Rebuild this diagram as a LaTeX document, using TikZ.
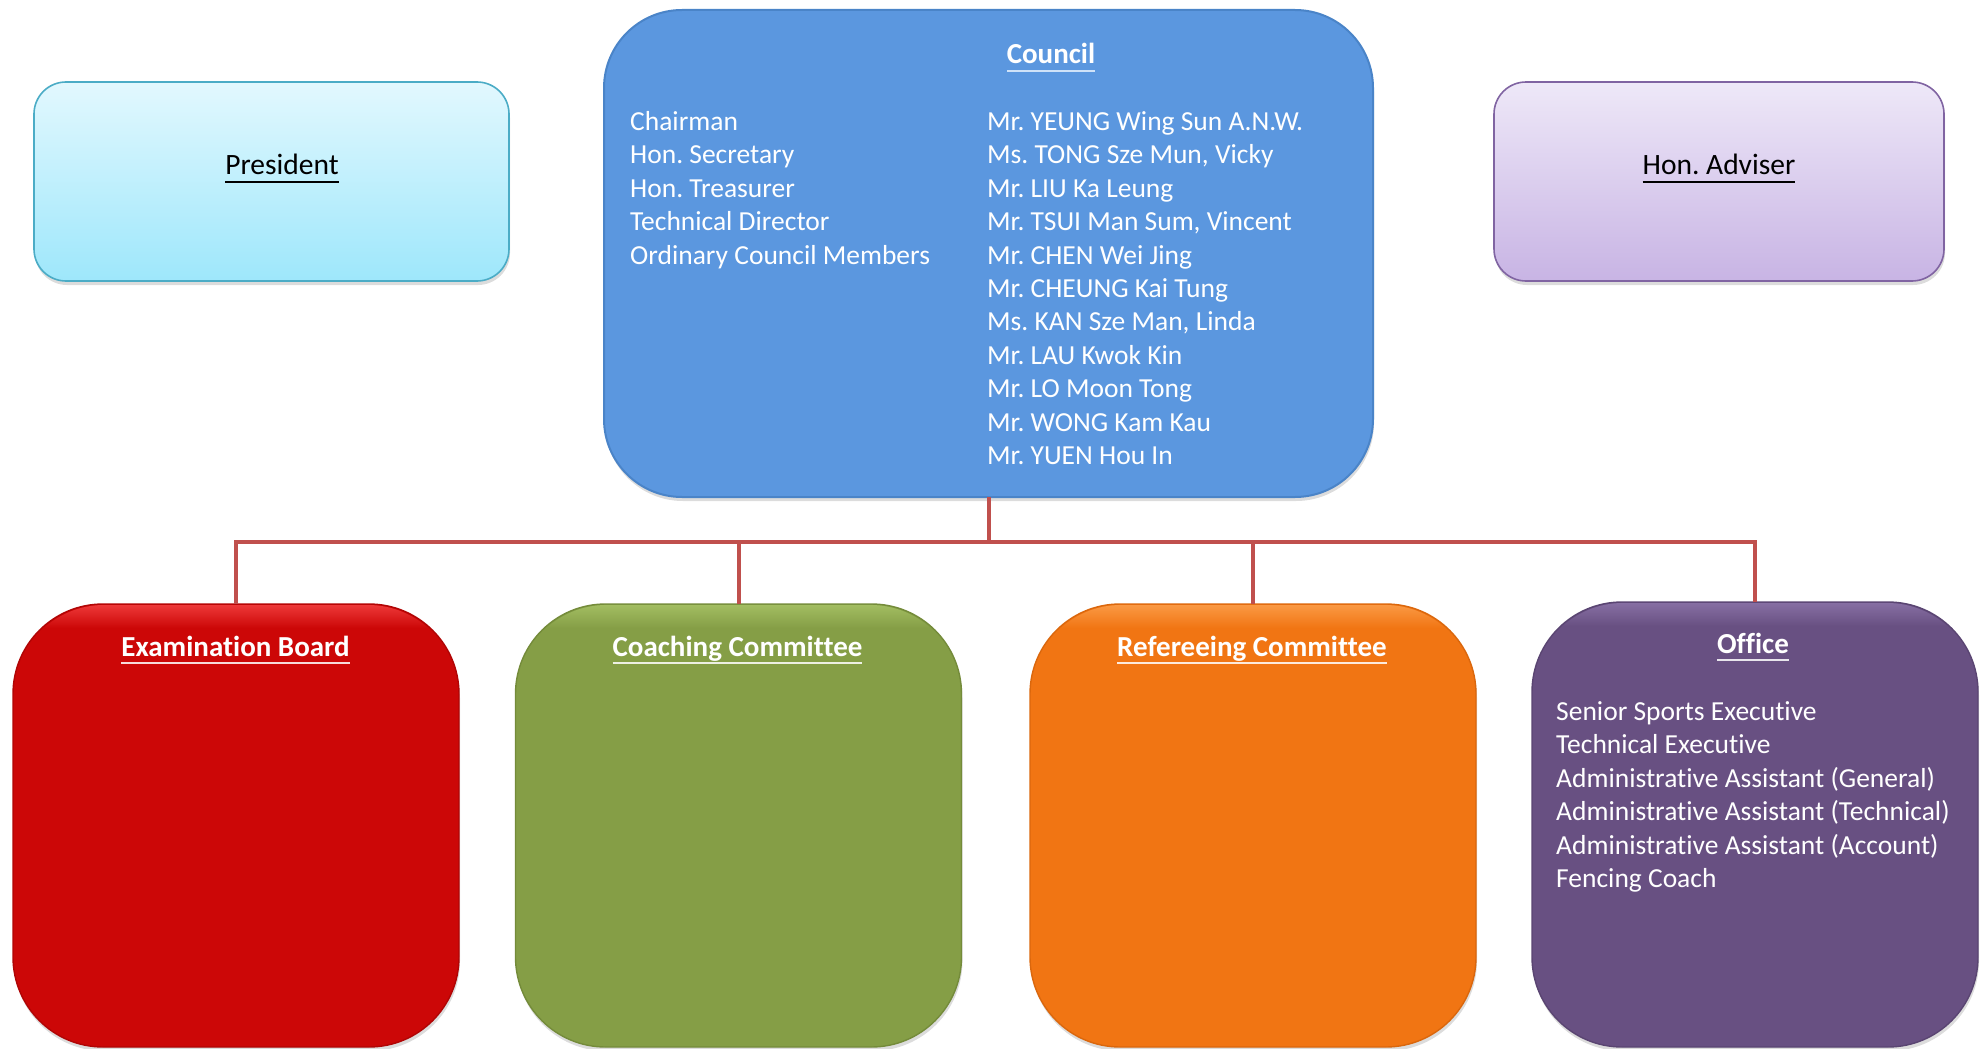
\documentclass[tikz,border=0pt]{standalone}
\usepackage{fontspec}
\setmainfont{Carlito}[Ligatures=NoCommon]
\usetikzlibrary{shadows}
\definecolor{presTop}{HTML}{E2F8FE}
\definecolor{presBot}{HTML}{9EE7FB}
\definecolor{presEdge}{HTML}{4BACC6}
\definecolor{advTop}{HTML}{EEE8F8}
\definecolor{advBot}{HTML}{C8B4E4}
\definecolor{advEdge}{HTML}{8064A2}
\definecolor{councilFill}{HTML}{5B97DF}
\definecolor{councilEdge}{HTML}{4A84C8}
\definecolor{councilUl}{HTML}{CFE2F8}
\definecolor{examFill}{HTML}{CC0707}
\definecolor{examHi}{HTML}{EE3A3A}
\definecolor{examEdge}{HTML}{B00505}
\definecolor{coachFill}{HTML}{859E46}
\definecolor{coachHi}{HTML}{A3BE62}
\definecolor{coachEdge}{HTML}{748B3A}
\definecolor{refFill}{HTML}{F17513}
\definecolor{refHi}{HTML}{FA9A45}
\definecolor{refEdge}{HTML}{DA670D}
\definecolor{offFill}{HTML}{685082}
\definecolor{offHi}{HTML}{8870A4}
\definecolor{offEdge}{HTML}{5A4572}
\definecolor{connRed}{HTML}{C0504D}
\newcommand\ulline[3]{\setbox0=\hbox{#3}\rlap{\color{#1}\rule[-#2]{\wd0}{2pt}}\box0}
\frenchspacing
\begin{document}
\frenchspacing
\begin{tikzpicture}[x=1pt,y=-1pt,
  topbox/.style={rectangle, rounded corners=32pt, inner sep=0pt, outer sep=0pt,
     line width=1.6pt, minimum height=199pt,
     drop shadow={shadow xshift=1pt, shadow yshift=-4pt, opacity=0.28}},
  bigbox/.style={rectangle, rounded corners=90pt, inner sep=0pt, outer sep=0pt,
     line width=1.4pt, minimum width=446pt, minimum height=443pt,
     drop shadow={shadow xshift=1pt, shadow yshift=-4pt, opacity=0.28}},
  titletext/.style={text=white, font=\fontsize{29}{34}\selectfont\bfseries\frenchspacing, inner sep=0pt, anchor=base},
  listtext/.style={text=white, font=\fontsize{27.5}{33}\selectfont\frenchspacing, inner sep=0pt, anchor=base west},
  blacktitle/.style={text=black, font=\fontsize{29.5}{34}\selectfont\frenchspacing, inner sep=0pt, anchor=base},
  conn/.style={draw=connRed, line width=4pt}]
\useasboundingbox (0,0) rectangle (1982,1049);

% top boxes
\node[topbox, minimum width=475pt, top color=presTop, bottom color=presBot, draw=presEdge]
  (pres) at (271.5,181.5) {};
\node[topbox, minimum width=450pt, top color=advTop, bottom color=advBot, draw=advEdge]
  (adv) at (1719,181.5) {};
\node[rectangle, rounded corners=78pt, inner sep=0pt, outer sep=0pt, line width=2pt,
  minimum width=769pt, minimum height=487pt, fill=councilFill, draw=councilEdge,
  drop shadow={shadow xshift=1pt, shadow yshift=-4pt, opacity=0.28}]
  (council) at (988.5,253.5) {};

% bottom boxes
\node[bigbox, fill=examFill, draw=examEdge] (exam) at (236,825.5) {};
\node[bigbox, fill=coachFill, draw=coachEdge] (coach) at (738.5,825.5) {};
\node[bigbox, fill=refFill, draw=refEdge] (ref) at (1253,825.5) {};
\node[bigbox, fill=offFill, draw=offEdge, minimum height=445pt] (office) at (1755,824.5) {};

% bevel highlights
\foreach \b/\hc/\fc in {exam/examHi/examFill, coach/coachHi/coachFill, ref/refHi/refFill, office/offHi/offFill}{
  \begin{scope}
    \clip[rounded corners=90pt] ([xshift=1pt,yshift=-1pt]\b.north west) rectangle ([xshift=-1pt,yshift=1pt]\b.south east);
    \shade[top color=\hc, bottom color=\fc] ([xshift=-2pt]\b.north west) rectangle ([xshift=2pt,yshift=-24pt]\b.north east);
  \end{scope}
}

% connectors
\coordinate (bus) at (988.5,542);
\draw[conn] (council.south) -- (bus);
\draw[conn] (exam.north) |- (bus) -| (office.north);
\draw[conn] (coach.north) -- (coach.north |- bus);
\draw[conn] (ref.north) -- (ref.north |- bus);

% texts top
\node[blacktitle] (prest) at (282,174) {\ulline{black}{9pt}{President}};
\node[blacktitle] (advt) at (1719,174) {\ulline{black}{9pt}{Hon. Adviser}};
\node[titletext] (councilt) at (1051,64) {\ulline{councilUl}{8pt}{Council}};

\foreach \t [count=\i from 0] in {Chairman, Hon. Secretary, Hon. Treasurer, Technical Director, Ordinary Council Members}
  \node[listtext] (cl\i) at (630,130.5+33.4*\i) {\t};
\foreach \t [count=\i from 0] in {Mr. YEUNG Wing Sun A.N.W., {Ms. TONG Sze Mun, Vicky}, Mr. LIU Ka Leung, {Mr. TSUI Man Sum, Vincent}, Mr. CHEN Wei Jing, Mr. CHEUNG Kai Tung, {Ms. KAN Sze Man, Linda}, Mr. LAU Kwok Kin, Mr. LO Moon Tong, Mr. WONG Kam Kau, Mr. YUEN Hou In}
  \node[listtext] (cr\i) at (987,130.5+33.4*\i) {\t};

% texts bottom
\node[titletext] (examt) at (235.5,656) {\ulline{white!85!examFill}{8pt}{Examination Board}};
\node[titletext] (coacht) at (737.5,656) {\ulline{white!85!coachFill}{8pt}{Coaching Committee}};
\node[titletext] (reft) at (1252,656) {\ulline{white!85!refFill}{8pt}{Refereeing Committee}};
\node[titletext] (offt) at (1753,653) {\ulline{white!85!offFill}{8pt}{Office}};

\foreach \t [count=\i from 0] in {Senior Sports Executive, Technical Executive, Administrative Assistant (General), Administrative Assistant (Technical), Administrative Assistant (Account), Fencing Coach}
  \node[listtext] (ol\i) at (1556,720.5+33.4*\i) {\t};
\end{tikzpicture}
\end{document}
